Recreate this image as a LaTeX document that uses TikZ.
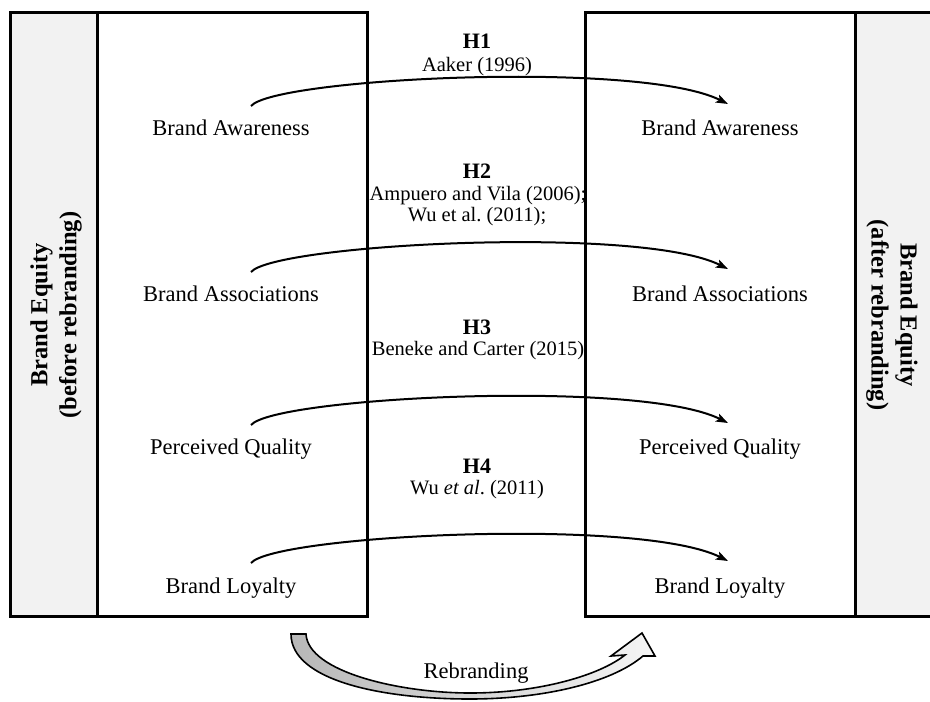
\documentclass[tikz,border=0pt]{standalone}
\usepackage{fontspec}
\setmainfont{Liberation Serif}
\usetikzlibrary{arrows.meta,calc}
\frenchspacing
\begin{document}
\begin{tikzpicture}[x=1pt,y=-1pt,
  boxline/.style={line width=3pt},
  stripfill/.style={fill=black!5},
  lab/.style={font=\fontsize{22.5}{26}\selectfont, anchor=base, inner sep=0pt},
  hyp/.style={font=\bfseries\fontsize{22}{26}\selectfont, anchor=base, inner sep=0pt},
  cite/.style={font=\fontsize{20.5}{24}\selectfont, anchor=base, inner sep=0pt},
  side/.style={font=\bfseries\fontsize{24.5}{29}\selectfont, align=center, inner sep=0pt},
  link/.style={line width=2pt, -{Stealth[length=12pt,width=8.5pt,inset=2.5pt]}},
  rebrand/.style={draw=black, line width=1.6pt, left color=black!28, right color=black!4},
]
\fill[white] (0,0) rectangle (930,702);
\useasboundingbox (0,0) rectangle (930,702);

% grey strips
\fill[stripfill] (10,12) rectangle (97,616);
\fill[stripfill] (855,12) rectangle (932,616);

% side labels
\node[side, rotate=90] (lside) at (56,315) {Brand Equity\\(before rebranding)};
\node[side, rotate=-90] (rside) at (892,315) {Brand Equity\\(after rebranding)};

% construct labels
\node[lab] (la1) at (231,135) {Brand Awareness};
\node[lab] (la2) at (231,301) {Brand Associations};
\node[lab] (la3) at (231,454) {Perceived Quality};
\node[lab] (la4) at (231,593) {Brand Loyalty};
\node[lab] (ra1) at (720,135) {Brand Awareness};
\node[lab] (ra2) at (720,301) {Brand Associations};
\node[lab] (ra3) at (720,454) {Perceived Quality};
\node[lab] (ra4) at (720,593) {Brand Loyalty};

% hypotheses
\node[hyp] (h1) at (477,48) {H1};
\node[cite] (c1) at (477,71) {Aaker (1996)};
\node[hyp] (h2) at (477,178) {H2};
\node[cite] (c2a) at (478,200) {Ampuero and Vila (2006);};
\node[cite] (c2b) at (477,221) {Wu et al. (2011);};
\node[hyp] (h3) at (477,334) {H3};
\node[cite] (c3) at (478,355) {Beneke and Carter (2015)};
\node[hyp] (h4) at (477,473) {H4};
\node[cite] (c4) at (477,494) {Wu \textit{et al}. (2011)};

% boxes
\draw[boxline] (10,12) rectangle (367,616);
\draw[boxline] (97,12) -- (97,616);
\draw[boxline] (585,12) rectangle (933,616);
\draw[boxline] (855,12) -- (855,616);

% arrows
\coordinate (s1) at (251,106); \coordinate (e1) at (728,104);
\coordinate (s2) at (251,272); \coordinate (e2) at (728,269);
\coordinate (s3) at (251,425); \coordinate (e3) at (728,423);
\coordinate (s4) at (251,563); \coordinate (e4) at (728,561);
\foreach \i in {1,2,3,4}{
  \draw[link] (s\i) .. controls ($(s\i)+(24,-28)$) and ($(e\i)+(-88,-44)$) .. (e\i);
}

% rebranding curved block arrow
\path[rebrand] (291,634) -- (306,634)
  .. controls (308,672) and (400,693) .. (470,693)
  .. controls (540,693) and (600,675) .. (625,655)
  -- (611,656) -- (642,633) -- (655,656) -- (643,656)
  .. controls (610,684) and (540,699) .. (470,699)
  .. controls (380,699) and (291,680) .. (291,634) -- cycle;
\node[lab] (rb) at (476,678) {Rebranding};
\end{tikzpicture}
\end{document}
